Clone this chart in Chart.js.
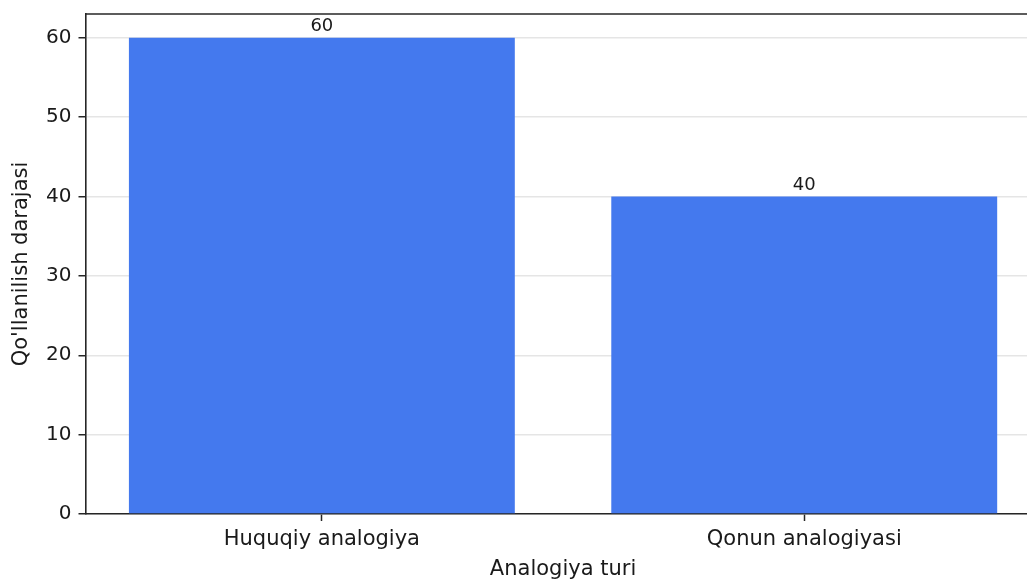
<!DOCTYPE html>
<html>
<head>
<meta charset="utf-8">
<script src="https://cdn.jsdelivr.net/npm/chart.js@4.4.1/dist/chart.umd.min.js"></script>
<style>
html,body{margin:0;padding:0;background:#fff;overflow:hidden;width:1027px;height:580px;}
#wrap{position:absolute;left:0;top:0;width:1050px;height:580px;}
</style>
</head>
<body>
<div id="wrap"><canvas id="c" width="1050" height="580"></canvas></div>
<script>
const categories = ["Huquqiy analogiya", "Qonun analogiyasi"];
const values = [60, 40];
const yTicks = [0, 10, 20, 30, 40, 50, 60];
const xTitle = "Analogiya turi";
const yTitle = "Qo'llanilish darajasi";

const FONT = "'DejaVu Sans', sans-serif";
const DARK = "#262626";
const TXT = "#1a1a1a";

const extras = {
  id: 'extras',
  afterDatasetsDraw(chart) {
    const ctx = chart.ctx;
    const meta = chart.getDatasetMeta(0);
    ctx.save();
    ctx.fillStyle = TXT;
    ctx.font = "18px " + FONT;
    ctx.textAlign = "center";
    ctx.textBaseline = "alphabetic";
    meta.data.forEach((bar, i) => {
      ctx.fillText(String(values[i]), bar.x, bar.y - 7);
    });
    ctx.restore();
  },
  afterDraw(chart) {
    const ctx = chart.ctx;
    const a = chart.chartArea;
    ctx.save();
    ctx.strokeStyle = DARK;
    ctx.lineWidth = 1.6;
    ctx.beginPath();
    ctx.moveTo(a.left, a.top);
    ctx.lineTo(a.right + 20, a.top);
    ctx.stroke();
    ctx.restore();
  }
};

new Chart(document.getElementById('c'), {
  type: 'bar',
  data: {
    datasets: [{
      data: values.map((v, i) => ({ x: i, y: v })),
      backgroundColor: "#4479EE",
      borderWidth: 0,
      categoryPercentage: 1.0,
      barPercentage: 0.8
    }]
  },
  options: {
    responsive: false,
    animation: false,
    devicePixelRatio: 1,
    layout: { padding: { left: 0, top: 14, right: 9.4, bottom: 0 } },
    plugins: { legend: { display: false }, tooltip: { enabled: false } },
    scales: {
      x: {
        type: 'linear',
        min: -0.49,
        max: 1.49,
        offset: false,
        afterBuildTicks(scale) { scale.ticks = categories.map((c, i) => ({ value: i })); },
        grid: { display: true, offset: false, drawOnChartArea: false, drawTicks: true, tickLength: 7, tickColor: DARK, tickWidth: 1.5 },
        border: { display: true, color: DARK, width: 1.6 },
        ticks: { color: TXT, font: { family: FONT, size: 21 }, padding: 6, maxRotation: 0, autoSkip: false,
                 callback: (v) => categories[v] },
        title: { display: true, text: xTitle, color: TXT, font: { family: FONT, size: 21 }, padding: { top: 0, bottom: -2 } },
        afterFit(scale) { scale.height = 66; scale.paddingLeft = 0; scale.paddingRight = 0; }
      },
      y: {
        type: 'linear',
        min: 0,
        max: 63,
        z: 1,
        afterBuildTicks(scale) { scale.ticks = yTicks.map(v => ({ value: v })); },
        grid: { color: "rgba(190,190,190,0.4)", lineWidth: 1.5, drawTicks: true, tickLength: 7, tickColor: DARK, tickWidth: 1.5 },
        border: { display: true, color: DARK, width: 1.6 },
        ticks: { color: TXT, font: { family: FONT, size: 20 }, padding: 7 },
        title: { display: true, text: yTitle, color: TXT, font: { family: FONT, size: 21 }, padding: { top: 9, bottom: 4 } },
        afterFit(scale) { scale.width = 85.5; scale.paddingTop = 0; scale.paddingBottom = 0; }
      }
    }
  },
  plugins: [extras]
});
</script>
</body>
</html>
